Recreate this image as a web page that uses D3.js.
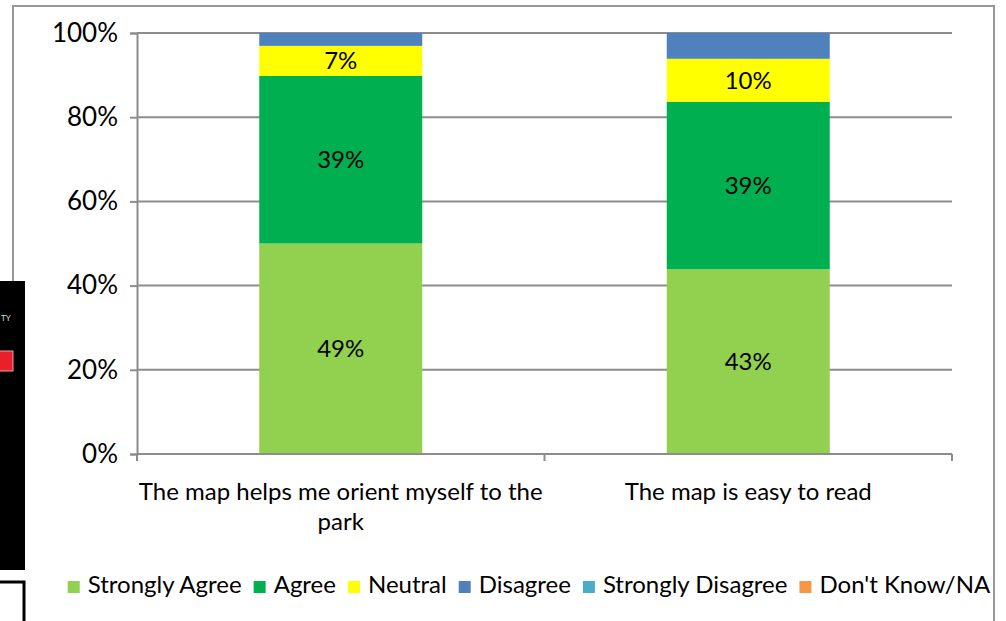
<!DOCTYPE html>
<meta charset="utf-8">
<style>
body { margin: 0; background: #fff; }
svg text { font-family: Lato, "Open Sans", sans-serif; fill: #000; }
.grid line { stroke: #8c8c8c; stroke-width: 2; }
.axis path, .axis line { stroke: #8c8c8c; stroke-width: 2; fill: none; }
</style>
<body>
<script src="https://d3js.org/d3.v7.min.js"></script>
<script>

// survey answers, in percent (chart is drawn as 100% stacked)
const categories = ["The map helps me orient myself to the park", "The map is easy to read"];
const seriesNames = ["Strongly Agree", "Agree", "Neutral", "Disagree", "Strongly Disagree", "Don't Know/NA"];
const stronglyAgree = [49, 43];
const agree = [39, 39];
const neutral = [7, 10];
const disagree = [3, 6];
const stronglyDisagree = [0, 0];
const dontKnow = [0, 0];
const yTicks = [0, 0.2, 0.4, 0.6, 0.8, 1];
const labelled = ["Strongly Agree", "Agree", "Neutral"];

const colors = ["#92D050", "#00B050", "#FFFF00", "#4F81BD", "#4BACC6", "#F79646"];

var width = 1006, height = 621;
var plot = {left: 137, right: 952, top: 33, bottom: 454};

var svg = d3.select("body").append("svg")
  .attr("width", width)
  .attr("height", height);

// pieces of another slide showing at the left edge
svg.append("rect").attr("x", 0).attr("y", 281).attr("width", 25).attr("height", 289).attr("fill", "#000");
svg.append("text").attr("x", 1).attr("y", 321).attr("font-size", 8).style("fill", "#ddd").text("TY");
svg.append("rect").attr("x", -2).attr("y", 351).attr("width", 15).attr("height", 20)
  .attr("fill", "#e8202a").attr("stroke", "#f2a0a0").attr("stroke-width", 1);
svg.append("rect").attr("x", -5).attr("y", 582).attr("width", 29).attr("height", 60)
  .attr("fill", "#fff").attr("stroke", "#000").attr("stroke-width", 3);

// chart frame
svg.append("path")
  .attr("d", "M13,281V6H994V621")
  .attr("fill", "none").attr("stroke", "#999").attr("stroke-width", 2);

var table = categories.map(function(c, i) {
  return {
    cat: c,
    "Strongly Agree": stronglyAgree[i],
    "Agree": agree[i],
    "Neutral": neutral[i],
    "Disagree": disagree[i],
    "Strongly Disagree": stronglyDisagree[i],
    "Don't Know/NA": dontKnow[i]
  };
});

var x = d3.scaleBand().domain(categories).range([plot.left, plot.right]).paddingInner(0.6).paddingOuter(0.3);
var y = d3.scaleLinear().domain([0, 1]).range([plot.bottom, plot.top]);
var color = d3.scaleOrdinal().domain(seriesNames).range(colors);

var stacked = d3.stack().keys(seriesNames).offset(d3.stackOffsetExpand)(table);

// gridlines
svg.append("g").attr("class", "grid")
  .selectAll("line")
  .data(yTicks.filter(function(d) { return d > 0; }))
  .enter().append("line")
  .attr("x1", plot.left).attr("x2", plot.right)
  .attr("y1", function(d) { return y(d); })
  .attr("y2", function(d) { return y(d); });

// bars
var layer = svg.selectAll(".layer")
  .data(stacked)
  .enter().append("g")
  .attr("class", "layer")
  .attr("fill", function(d) { return color(d.key); });

layer.selectAll("rect")
  .data(function(d) { return d; })
  .enter().append("rect")
  .attr("x", function(d) { return x(d.data.cat); })
  .attr("width", x.bandwidth())
  .attr("y", function(d) { return y(d[1]); })
  .attr("height", function(d) { return y(d[0]) - y(d[1]); });

// data labels
layer.filter(function(d) { return labelled.indexOf(d.key) >= 0; })
  .selectAll("text")
  .data(function(d) { return d.map(function(p) { return {p: p, key: d.key}; }); })
  .enter().append("text")
  .attr("x", function(d) { return x(d.p.data.cat) + x.bandwidth() / 2; })
  .attr("y", function(d) { return (y(d.p[0]) + y(d.p[1])) / 2; })
  .attr("dy", "0.35em")
  .attr("text-anchor", "middle")
  .attr("font-size", 24)
  .text(function(d) { return d.p.data[d.key] + "%"; });

// y axis
var yAxis = svg.append("g")
  .attr("class", "axis")
  .attr("transform", "translate(" + plot.left + ",0)")
  .call(d3.axisLeft(y).tickValues(yTicks).tickFormat(d3.format(".0%")).tickSizeOuter(0).tickSize(7).tickPadding(12));
yAxis.selectAll("text").attr("font-size", 26).style("font-family", "Lato, sans-serif");

// x axis
var step = x.step();
var bounds = categories.map(function(c) { return x(c) - (step - x.bandwidth()) / 2; }).concat([plot.right]);
var xAxis = svg.append("g").attr("class", "axis");
xAxis.append("line")
  .attr("x1", plot.left).attr("x2", plot.right)
  .attr("y1", plot.bottom).attr("y2", plot.bottom);
xAxis.selectAll(".tick")
  .data(bounds)
  .enter().append("line")
  .attr("x1", function(d) { return d; }).attr("x2", function(d) { return d; })
  .attr("y1", plot.bottom).attr("y2", plot.bottom + 7);

// category labels, wrapped like the original
var catLines = [["The map helps me orient myself to the", "park"], ["The map is easy to read"]];
svg.selectAll(".cat")
  .data(categories)
  .enter().append("text")
  .attr("class", "cat")
  .attr("text-anchor", "middle")
  .attr("font-size", 24)
  .attr("x", function(d) { return x(d) + x.bandwidth() / 2; })
  .attr("y", 500)
  .each(function(d, i) {
    var t = d3.select(this);
    catLines[i].forEach(function(line, j) {
      t.append("tspan")
        .attr("x", x(d) + x.bandwidth() / 2)
        .attr("dy", j === 0 ? 0 : 30)
        .text(line);
    });
  });

// legend
var legend = svg.append("g").attr("class", "legend");
var pos = 0;
seriesNames.forEach(function(name) {
  var g = legend.append("g").attr("transform", "translate(" + pos + ",0)");
  g.append("rect").attr("x", 0).attr("y", -12).attr("width", 12).attr("height", 12).attr("fill", color(name));
  var t = g.append("text").attr("x", 20).attr("y", 0).attr("font-size", 24).text(name);
  pos += 20 + t.node().getComputedTextLength() + 12;
});
pos -= 12;
legend.attr("transform", "translate(" + (529 - pos / 2) + ",593)");

</script>
</body>
